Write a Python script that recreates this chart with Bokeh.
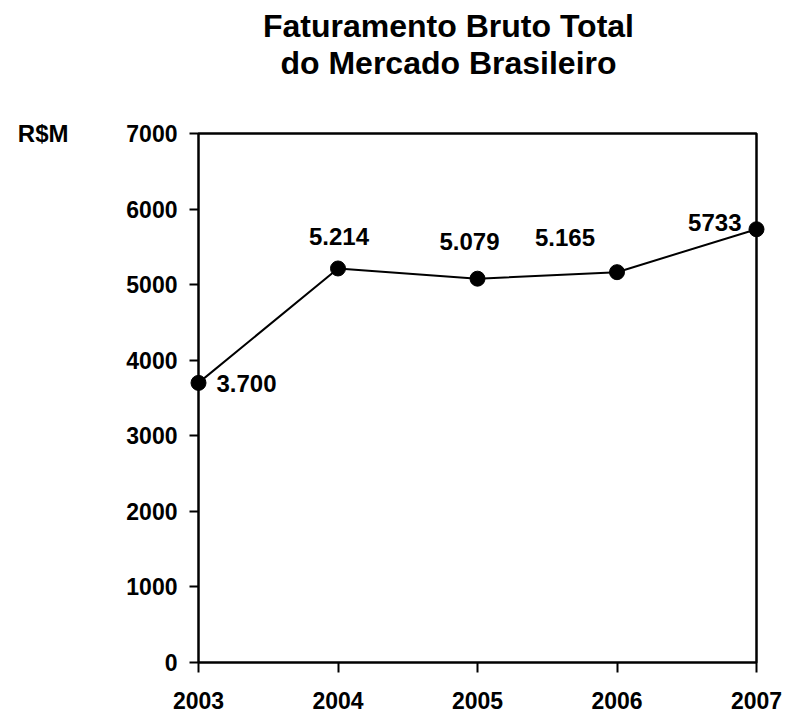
from bokeh.plotting import figure
from bokeh.models import (Range1d, LinearAxis, FixedTicker, BoxAnnotation, Label,
                          ColumnDataSource)
from bokeh.embed import file_html
from bokeh.resources import INLINE
from bokeh.core.properties import value

# ---- data ----
years = [2003, 2004, 2005, 2006, 2007]
revenue = [3700, 5214, 5079, 5165, 5733]
value_labels = ["3.700", "5.214", "5.079", "5.165", "5733"]
y_ticks = [0, 1000, 2000, 3000, 4000, 5000, 6000, 7000]
title_lines = ["Faturamento Bruto Total", "do Mercado Brasileiro"]
unit_label = "R$M"

# label placement (screen px offsets)
lab_dx = [18, 1, -8, -52, -15]
lab_dy = [1, -32, -37, -35, -7]
lab_align = ["left", "center", "center", "center", "right"]

FONT = "Liberation Sans"
W, H = 785, 712
# pixel box of the plot area inside the canvas
BL, BR, BT, BB = 198, 756, 133, 662
sx = (BR - BL) / (years[-1] - years[0])
sy = (BB - BT) / (y_ticks[-1] - y_ticks[0])
x0 = years[0] - BL / sx
x1 = years[-1] + (W - BR) / sx
y0 = y_ticks[0] - (H - BB) / sy
y1 = y_ticks[-1] + BT / sy

p = figure(width=W, height=H,
           x_range=Range1d(x0, x1), y_range=Range1d(y0, y1),
           x_axis_location=None, y_axis_location=None,
           toolbar_location=None, output_backend="svg",
           min_border_left=0, min_border_right=0,
           min_border_top=0, min_border_bottom=0,
           outline_line_color=None, background_fill_color="white",
           border_fill_color="white")
p.grid.visible = False

def style_axis(ax, standoff, tick_out):
    ax.axis_line_color = None
    ax.major_tick_line_color = "black"
    ax.major_tick_line_width = 2
    ax.major_tick_in = 0
    ax.major_tick_out = tick_out
    ax.minor_tick_line_color = None
    ax.major_label_text_font = FONT
    ax.major_label_text_font_style = "bold"
    ax.major_label_text_font_size = "23px"
    ax.major_label_text_color = "black"
    ax.major_label_standoff = standoff

yax = LinearAxis(ticker=FixedTicker(ticks=y_ticks), fixed_location=years[0])
style_axis(yax, 12, 9)
p.add_layout(yax, "left")

xax = LinearAxis(ticker=FixedTicker(ticks=years), fixed_location=y_ticks[0])
style_axis(xax, 19, 10)
p.add_layout(xax, "below")

# plot box
p.add_layout(BoxAnnotation(left=years[0], right=years[-1], bottom=y_ticks[0], top=y_ticks[-1],
                           fill_alpha=0, line_color="black", line_alpha=1, line_width=2.5))

src = ColumnDataSource(dict(x=years, y=revenue, t=value_labels, dx=lab_dx, dy=lab_dy, al=lab_align))
p.line("x", "y", source=src, line_color="black", line_width=2)
p.scatter("x", "y", source=src, size=15, fill_color="black", line_color="black")
p.text("x", "y", text="t", source=src, x_offset="dx", y_offset="dy", text_align="al",
       text_baseline="middle", text_font=value(FONT), text_font_style="bold",
       text_font_size="24px", text_color="black")

# unit label
p.add_layout(Label(x=years[0], y=y_ticks[-1], x_offset=-130, text=unit_label,
                   text_align="right", text_baseline="middle", text_font=FONT,
                   text_font_style="bold", text_font_size="24px", text_color="black"))

# title
mid = (years[0] + years[-1]) / 2
for line, off in zip(title_lines, [108, 71]):
    p.add_layout(Label(x=mid, y=y_ticks[-1], x_offset=-29, y_offset=off, text=line,
                       text_align="center", text_baseline="middle", text_font=FONT,
                       text_font_style="bold", text_font_size="32px", text_color="black"))

open("out.html", "w").write(file_html(p, INLINE))
